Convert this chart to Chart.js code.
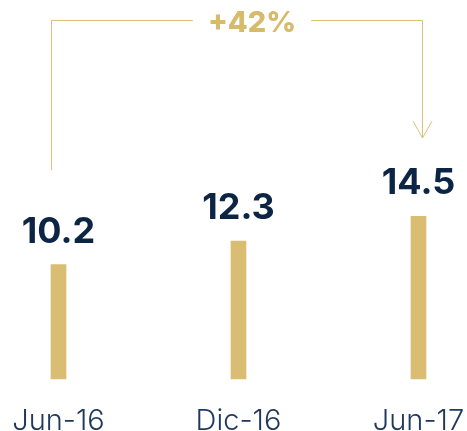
<!DOCTYPE html>
<html>
<head>
<meta charset="utf-8">
<script src="https://cdn.jsdelivr.net/npm/chart.js@4.4.1/dist/chart.umd.min.js"></script>
<style>
html,body{margin:0;padding:0;background:#fff;}
#wrap{width:467px;height:431px;position:relative;}
</style>
</head>
<body>
<div id="wrap"><canvas id="c" width="467" height="431"></canvas></div>
<script>
const categories = ["Jun-16", "Dic-16", "Jun-17"];
const values = [10.2, 12.3, 14.5];
const growthLabel = "+" + Math.round((values[values.length - 1] / values[0] - 1) * 100) + "%";

const GOLD = "#d8bd72";
const GOLD_LINE = "#dcc07a";
const GOLD_TEXT = "#d7bb6c";
const NAVY = "#0d2545";
const AXIS_TEXT = "#1f385c";

const valueLabels = {
  id: "valueLabels",
  afterDatasetsDraw(chart) {
    const ctx = chart.ctx;
    const meta = chart.getDatasetMeta(0);
    ctx.save();
    ctx.font = "700 36px Inter";
    ctx.fillStyle = NAVY;
    ctx.textAlign = "center";
    ctx.textBaseline = "alphabetic";
    meta.data.forEach((bar, i) => {
      ctx.fillText(values[i].toFixed(1), bar.x, bar.y - 22);
    });
    ctx.restore();
  }
};

const growthArrow = {
  id: "growthArrow",
  afterDraw(chart) {
    const ctx = chart.ctx;
    const x = chart.scales.x;
    const area = chart.chartArea;
    const xl = Math.round(x.getPixelForValue(0) - 8);
    const xr = Math.round(x.getPixelForValue(categories.length - 1) + 3.5);
    const xt = x.getPixelForValue(1) + 13.5;
    const yTop = Math.round(area.top) + 0.5;
    const yLeftBottom = area.top + 150;
    const yTip = area.top + 118;
    ctx.save();
    ctx.font = "800 29px Inter";
    const tw = ctx.measureText(growthLabel).width;
    const gap = tw / 2 + 15;
    ctx.strokeStyle = GOLD_LINE;
    ctx.lineWidth = 1;
    ctx.beginPath();
    ctx.moveTo(xl + 0.5, yLeftBottom);
    ctx.lineTo(xl + 0.5, yTop);
    ctx.lineTo(xt - gap, yTop);
    ctx.moveTo(xt + gap, yTop);
    ctx.lineTo(xr + 0.5, yTop);
    ctx.lineTo(xr + 0.5, yTip);
    ctx.moveTo(xr + 0.5 - 9.5, yTip - 17);
    ctx.lineTo(xr + 0.5, yTip);
    ctx.lineTo(xr + 0.5 + 9.5, yTip - 17);
    ctx.stroke();
    ctx.fillStyle = GOLD_TEXT;
    ctx.textAlign = "center";
    ctx.textBaseline = "alphabetic";
    ctx.fillText(growthLabel, xt, yTop + 11);
    ctx.restore();
  }
};

new Chart(document.getElementById("c"), {
  type: "bar",
  data: {
    labels: categories,
    datasets: [{
      data: values,
      backgroundColor: GOLD,
      borderWidth: 0,
      barThickness: 15,
      clip: false
    }]
  },
  options: {
    responsive: false,
    animation: false,
    devicePixelRatio: 1,
    layout: { padding: { left: 58.5, right: 48.5, top: 20, bottom: 0 } },
    plugins: { legend: { display: false }, tooltip: { enabled: false } },
    scales: {
      x: {
        offset: false,
        grid: { display: false },
        border: { display: false },
        ticks: {
          color: AXIS_TEXT,
          font: { family: "Inter", size: 29, weight: 300 },
          padding: 17,
          maxRotation: 0,
          minRotation: 0,
          autoSkip: false
        },
        afterFit(scale) {
          scale.height = 52;
          scale.paddingLeft = 0;
          scale.paddingRight = 0;
          scale.paddingTop = 0;
          scale.paddingBottom = 0;
        }
      },
      y: {
        display: false,
        min: 0,
        max: 32
      }
    }
  },
  plugins: [valueLabels, growthArrow]
});
</script>
</body>
</html>
